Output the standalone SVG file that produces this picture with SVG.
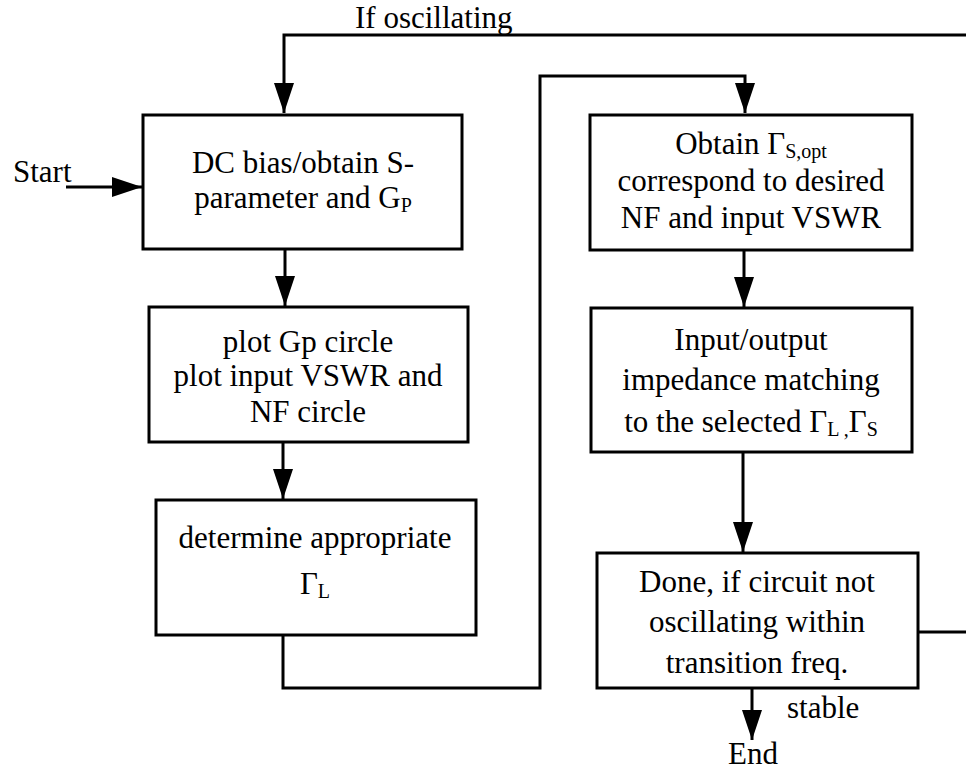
<svg xmlns="http://www.w3.org/2000/svg" width="966" height="772" viewBox="0 0 966 772">
<style>
.box{fill:#fff;stroke:#000;stroke-width:3}
.ln{fill:none;stroke:#000;stroke-width:3}
text{font-family:"Liberation Serif","Times New Roman",serif;font-size:31px;fill:#000}
.c{text-anchor:middle}
.sub{font-size:20px}
</style>
<defs>
<marker id="ah" markerUnits="userSpaceOnUse" markerWidth="30" markerHeight="22" viewBox="0 0 30 22" refX="30" refY="11" orient="auto">
<path d="M0,1 L30,11 L0,21 Z" fill="#000"/>
</marker>
</defs>
<rect width="966" height="772" fill="#fff"/>
<g id="connectors">
<path class="ln" d="M966,35 H284 V113" marker-end="url(#ah)"/>
<path class="ln" d="M66,187 H142" marker-end="url(#ah)"/>
<path class="ln" d="M285,249 V306" marker-end="url(#ah)"/>
<path class="ln" d="M283,442 V499" marker-end="url(#ah)"/>
<path class="ln" d="M283,635 V688 H540 V76 H745 V113" marker-end="url(#ah)"/>
<path class="ln" d="M744,250 V307" marker-end="url(#ah)"/>
<path class="ln" d="M743,452 V552" marker-end="url(#ah)"/>
<path class="ln" d="M918,632 H966"/>
<path class="ln" d="M752,688 V740" marker-end="url(#ah)"/>
</g>
<g id="labels">
<text x="355" y="28">If oscillating</text>
<text x="13" y="182">Start</text>
<text x="787" y="718">stable</text>
<text x="728" y="764">End</text>
</g>
<g id="n1">
<rect class="box" x="143" y="115" width="319" height="134"/>
<text class="c" x="303" y="173">DC bias/obtain S-</text>
<text class="c" x="303" y="208">parameter and G<tspan class="sub" dy="4">P</tspan></text>
</g>
<g id="n2">
<rect class="box" x="149" y="307" width="319" height="135"/>
<text class="c" x="308" y="352">plot Gp circle</text>
<text class="c" x="308" y="386">plot input VSWR and</text>
<text class="c" x="308" y="422">NF circle</text>
</g>
<g id="n3">
<rect class="box" x="156" y="500" width="320" height="135"/>
<text class="c" x="315" y="548">determine appropriate</text>
<text class="c" x="315" y="594">Γ<tspan class="sub" dy="4">L</tspan></text>
</g>
<g id="n4">
<rect class="box" x="590" y="115" width="322" height="135"/>
<text class="c" x="751" y="154">Obtain Γ<tspan class="sub" dy="4">S,opt</tspan></text>
<text class="c" x="751" y="191">correspond to desired</text>
<text class="c" x="751" y="228">NF and input VSWR</text>
</g>
<g id="n5">
<rect class="box" x="591" y="308" width="321" height="144"/>
<text class="c" x="751" y="350">Input/output</text>
<text class="c" x="751" y="390">impedance matching</text>
<text class="c" x="751" y="432">to the selected Γ<tspan class="sub" dy="4">L ,</tspan><tspan dy="-4">Γ</tspan><tspan class="sub" dy="4">S</tspan></text>
</g>
<g id="n6">
<rect class="box" x="597" y="553" width="321" height="135"/>
<text class="c" x="757" y="592">Done, if circuit not</text>
<text class="c" x="757" y="632">oscillating within</text>
<text class="c" x="757" y="673">transition freq.</text>
</g>
</svg>
